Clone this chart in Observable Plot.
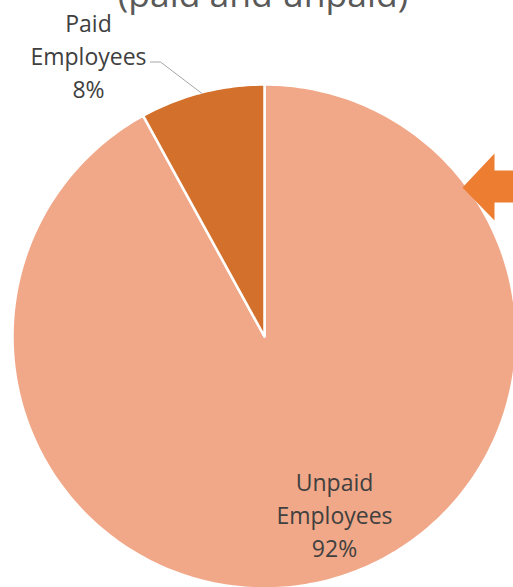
<!DOCTYPE html>
<html><head><meta charset="utf-8">
<script src="https://cdn.jsdelivr.net/npm/d3@7"></script>
<script src="https://cdn.jsdelivr.net/npm/@observablehq/plot@0.6"></script>
<style>html,body{margin:0;padding:0;background:#fff;overflow:hidden}</style>
</head><body><div id="chart"></div>
<script>
const categories = ["Unpaid Employees", "Paid Employees"];
const shares = [92, 8];
const shareLabels = ["92%", "8%"];
const colors = ["#F1A889", "#D3702B"];
const titleText = "(paid and unpaid)";

const W = 513, H = 587, cx = 264, cy = 336, R = 252;
const toX = px => (px - cx) / R, toY = py => (cy - py) / R;

const arcs = d3.pie().sort(null).value(d => d)(shares);
const slicePts = [];
arcs.forEach((a, i) => {
  const n = Math.max(4, Math.ceil((a.endAngle - a.startAngle) / (2 * Math.PI) * 360));
  slicePts.push({cat: categories[i], x: 0, y: 0});
  for (let k = 0; k <= n; k++) {
    const t = a.startAngle + (a.endAngle - a.startAngle) * k / n;
    slicePts.push({cat: categories[i], x: Math.sin(t), y: Math.cos(t)});
  }
  slicePts.push({cat: categories[i], x: 0, y: 0});
});

// label layout
const labelPos = [{x: toX(334), y: toY(512.6)}, {x: toX(88), y: toY(54)}];
const labelData = categories.map((c, i) => ({
  text: c.replace(" ", "\n") + "\n" + shareLabels[i], x: labelPos[i].x, y: labelPos[i].y
}));

// leader line for the small slice: label -> arc midpoint
const pa = arcs[1], mid = (pa.startAngle + pa.endAngle) / 2;
const leader = [
  {x: toX(150), y: toY(61.5)},
  {x: toX(160), y: toY(61.5)},
  {x: Math.sin(mid) * 0.995, y: Math.cos(mid) * 0.995}
];

// callout arrow (annotation)
const arrow = [[462,187],[494,153],[494,170],[530,170],[530,202],[494,202],[494,220],[462,187]]
  .map(([px, py]) => ({x: toX(px), y: toY(py)}));

const plot = Plot.plot({
  width: W, height: H,
  margin: 0,
  style: {background: "#fff", overflow: "hidden"},
  x: {domain: [-1, 1], range: [cx - R, cx + R], axis: null},
  y: {domain: [-1, 1], range: [cy + R, cy - R], axis: null},
  color: {domain: categories, range: colors},
  marks: [
    Plot.line(slicePts, {x: "x", y: "y", z: "cat", fill: "cat", stroke: "#fff", strokeWidth: 2.5, strokeLinejoin: "round"}),
    Plot.line(arrow, {x: "x", y: "y", fill: "#ED7D31", stroke: "none"}),
    Plot.line(leader, {x: "x", y: "y", stroke: "#A6A6A6", strokeWidth: 1}),
    Plot.text(labelData, {x: "x", y: "y", text: "text", fontSize: 23, lineHeight: 1.43,
      fontFamily: "Open Sans", fill: "#404040", textAnchor: "middle", lineAnchor: "middle"}),
    Plot.text([titleText], {x: () => toX(262.5), y: () => toY(-4.5), text: d => d, fontSize: 35.5,
      fontFamily: "Open Sans", fontWeight: 400, fill: "#595959", textAnchor: "middle", lineAnchor: "middle"})
  ]
});
document.getElementById("chart").append(plot);
</script>
</body></html>
